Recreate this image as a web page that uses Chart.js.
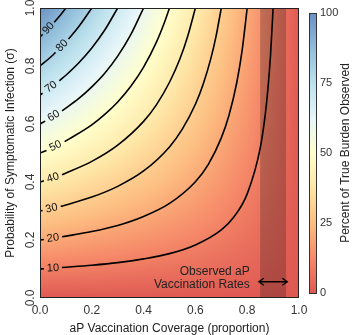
<!DOCTYPE html>
<html>
<head>
<meta charset="utf-8">
<script src="https://cdn.jsdelivr.net/npm/chart.js@4.4.1/dist/chart.umd.min.js"></script>
<style>
  html, body { margin: 0; padding: 0; background: #fff; }
  #wrap { width: 354px; height: 335px; }
</style>
</head>
<body>
<div id="wrap"><canvas id="chart"></canvas></div>
<script>
// percent of true burden observed, rows = sigma, columns = aP coverage
const coverage = [0, 0.1, 0.2, 0.3, 0.4, 0.5, 0.6, 0.7, 0.8, 0.9, 1]
const sigma    = [0, 0.1, 0.2, 0.3, 0.4, 0.5, 0.6, 0.7, 0.8, 0.9, 1]
const observed = [
  [0, 0, 0, 0, 0, 0, 0, 0, 0, 0, 0],
  [10, 9.47, 8.88, 8.22, 7.48, 6.65, 5.69, 4.59, 3.31, 1.80, 0],
  [20, 18.83, 17.54, 16.13, 14.56, 12.82, 10.87, 8.67, 6.17, 3.31, 0],
  [30, 28.08, 26.00, 23.74, 21.28, 18.58, 15.60, 12.32, 8.67, 4.59, 0],
  [40, 37.23, 34.26, 31.08, 27.65, 23.95, 19.95, 15.60, 10.87, 5.69, 0],
  [50, 46.27, 42.33, 38.15, 33.71, 28.99, 23.95, 18.58, 12.82, 6.64, 0],
  [60, 55.21, 50.21, 44.97, 39.47, 33.71, 27.65, 21.28, 14.56, 7.48, 0],
  [70, 64.06, 57.91, 51.55, 44.97, 38.15, 31.08, 23.74, 16.13, 8.22, 0],
  [80, 72.80, 65.44, 57.91, 50.21, 42.33, 34.26, 26.00, 17.54, 8.88, 0],
  [90, 81.45, 72.80, 64.06, 55.21, 46.27, 37.23, 28.08, 18.83, 9.47, 0],
  [100, 90, 80, 70, 60, 50, 40, 30, 20, 10, 0]
]

// contour lines, [coverage, sigma]; null marks the label gap
const levels    = [10, 20, 30, 40, 50, 60, 70, 80, 90]
const contour10 = [[0,0.1],[0.015,0.101],null,[0.085,0.105],[0.2,0.113],[0.3,0.122],[0.4,0.135],[0.5,0.153],[0.6,0.183],[0.7,0.235],[0.75,0.281],[0.8,0.359],[0.85,0.516],[0.87,0.635],[0.88,0.721],[0.89,0.836],[0.9,1]]
const contour20 = [[0,0.2],[0.015,0.202],null,[0.085,0.211],[0.2,0.229],[0.3,0.25],[0.4,0.281],[0.5,0.326],[0.6,0.401],[0.65,0.461],[0.7,0.552],[0.73,0.631],[0.76,0.744],[0.78,0.851],[0.8,1]]
const contour30 = [[0,0.3],[0.01,0.302],null,[0.08,0.316],[0.2,0.348],[0.3,0.385],[0.4,0.438],[0.5,0.521],[0.55,0.583],[0.6,0.668],[0.63,0.737],[0.66,0.827],[0.68,0.904],[0.7,1]]
const contour40 = [[0,0.4],[0.015,0.404],null,[0.085,0.425],[0.2,0.471],[0.3,0.527],[0.4,0.609],[0.45,0.667],[0.5,0.744],[0.54,0.824],[0.57,0.902],[0.6,1]]
const contour50 = [[0,0.5],[0.025,0.509],null,[0.095,0.539],[0.2,0.597],[0.25,0.633],[0.3,0.676],[0.35,0.729],[0.4,0.796],[0.45,0.883],[0.48,0.949],[0.5,1]]
const contour60 = [[0,0.6],[0.02,0.61],null,[0.085,0.645],[0.15,0.688],[0.2,0.728],[0.25,0.775],[0.3,0.834],[0.35,0.907],[0.4,1]]
const contour70 = [[0,0.7],[0.01,0.706],null,[0.075,0.749],[0.1,0.768],[0.15,0.811],[0.2,0.862],[0.25,0.924],[0.3,1]]
const contour80 = [[0,0.8],[0.05,0.838],[0.06,0.847],null,[0.11,0.893],[0.15,0.936],[0.2,1]]
const contour90 = [[0,0.9],[0.01,0.909],null,[0.055,0.951],[0.08,0.977],[0.1,1]]
const contours  = [contour10, contour20, contour30, contour40, contour50, contour60, contour70, contour80, contour90]

const observedRates = [0.85, 0.95]
const xTicks        = [0, 0.2, 0.4, 0.6, 0.8, 1]
const yTicks        = [0, 0.2, 0.4, 0.6, 0.8, 1]
const barTicks      = [0, 25, 50, 75, 100]

const palette = ["#d73027", "#f46d43", "#fdae61", "#fee090", "#ffffbf", "#e0f3f8", "#abd9e9", "#74add1", "#4575b4"]
const alpha   = 0.8
const font    = "'Liberation Sans', Arial, Helvetica, sans-serif"
const ink     = "#222"

const stops = palette.map(h => {
  const n = parseInt(h.slice(1), 16)
  return [n >> 16, (n >> 8) & 255, n & 255].map(c => Math.round(c * alpha + 255 * (1 - alpha)))
})

function colorFor(v) {
  const t = Math.max(0, Math.min(1, v / 100)) * (stops.length - 1)
  const i = Math.min(Math.floor(t), stops.length - 2)
  const f = t - i
  return stops[i].map((c, k) => c + (stops[i + 1][k] - c) * f)
}

function cellAt(axis, v) {
  const n = axis.length - 1
  let i = 0
  while (i < n - 1 && v > axis[i + 1]) i++
  const f = Math.max(0, Math.min(1, (v - axis[i]) / (axis[i + 1] - axis[i])))
  return [i, f]
}

function valueAt(c, s) {
  const [i, fx] = cellAt(coverage, c)
  const [j, fy] = cellAt(sigma, s)
  const a = observed[j][i],     b = observed[j][i + 1]
  const d = observed[j + 1][i], e = observed[j + 1][i + 1]
  return (a * (1 - fx) + b * fx) * (1 - fy) + (d * (1 - fx) + e * fx) * fy
}

const heatmap = {
  id: "heatmap",
  beforeDatasetsDraw(chart) {
    const { ctx, chartArea: a, scales: { x, y, bar } } = chart
    const w = Math.round(a.right - a.left), h = Math.round(a.bottom - a.top)
    const off = document.createElement("canvas")
    off.width = w; off.height = h
    const octx = off.getContext("2d")
    const img  = octx.createImageData(w, h)
    for (let j = 0; j < h; j++) {
      const s = y.getValueForPixel(a.top + j + 0.5)
      for (let i = 0; i < w; i++) {
        const rgb = colorFor(valueAt(x.getValueForPixel(a.left + i + 0.5), s))
        const p = (j * w + i) * 4
        img.data[p] = rgb[0]; img.data[p + 1] = rgb[1]; img.data[p + 2] = rgb[2]; img.data[p + 3] = 255
      }
    }
    octx.putImageData(img, 0, 0)
    ctx.save()
    ctx.drawImage(off, a.left, a.top)

    const x0 = x.getPixelForValue(observedRates[0]), x1 = x.getPixelForValue(observedRates[1])
    ctx.fillStyle = "rgba(60, 30, 30, 0.3)"
    ctx.fillRect(x0, a.top, x1 - x0, a.bottom - a.top)

    // colour bar
    const top = bar.getPixelForValue(100), bottom = bar.getPixelForValue(0)
    const bx  = bar.left + 10
    const grad = ctx.createLinearGradient(0, bottom, 0, top)
    stops.forEach((c, k) => grad.addColorStop(k / (stops.length - 1), `rgb(${c[0]},${c[1]},${c[2]})`))
    ctx.fillStyle = grad
    ctx.fillRect(bx, top, 7, bottom - top)
    ctx.strokeStyle = "#333"
    ctx.lineWidth = 1
    ctx.strokeRect(bx + 0.5, top + 0.5, 7, bottom - top)

    ctx.fillStyle = ink
    ctx.font = `12px ${font}`
    ctx.textAlign = "center"
    ctx.textBaseline = "middle"
    ctx.translate(bar.left + 47, (a.top + a.bottom) / 2)
    ctx.rotate(-Math.PI / 2)
    ctx.fillText("Percent of True Burden Observed", 0, 0)
    ctx.restore()
  },
  afterDatasetsDraw(chart) {
    const { ctx, chartArea: a, scales: { x, y } } = chart
    ctx.save()

    // contour labels in the gaps
    ctx.fillStyle = "#111"
    ctx.font = `11px ${font}`
    ctx.textAlign = "center"
    ctx.textBaseline = "middle"
    chart.data.datasets.forEach((ds, k) => {
      const pts = chart.getDatasetMeta(k).data
      const g = ds.data.findIndex(p => p.y === null)
      if (g < 1) return
      const p = pts[g - 1], q = pts[g + 1]
      ctx.save()
      ctx.translate((p.x + q.x) / 2, (p.y + q.y) / 2)
      ctx.rotate(Math.atan2(q.y - p.y, q.x - p.x))
      ctx.fillText(String(levels[k]), 0, 0)
      ctx.restore()
    })

    // annotation
    ctx.fillStyle = ink
    ctx.font = `12px ${font}`
    ctx.textAlign = "right"
    ctx.fillText("Observed aP", x.getPixelForValue(0.81), y.getPixelForValue(0.09))
    ctx.fillText("Vaccination Rates", x.getPixelForValue(0.81), y.getPixelForValue(0.045))

    const ay = y.getPixelForValue(0.056)
    const ax0 = x.getPixelForValue(0.845), ax1 = x.getPixelForValue(0.955)
    ctx.strokeStyle = "#000"
    ctx.lineWidth = 1.3
    ctx.beginPath()
    ctx.moveTo(ax0, ay); ctx.lineTo(ax1, ay)
    ctx.moveTo(ax0 + 5, ay - 3.5); ctx.lineTo(ax0, ay); ctx.lineTo(ax0 + 5, ay + 3.5)
    ctx.moveTo(ax1 - 5, ay - 3.5); ctx.lineTo(ax1, ay); ctx.lineTo(ax1 - 5, ay + 3.5)
    ctx.stroke()

    ctx.strokeStyle = "#222"
    ctx.lineWidth = 1
    ctx.strokeRect(a.left + 0.5, a.top + 0.5, a.right - a.left - 1, a.bottom - a.top - 1)
    ctx.restore()
  }
}

const datasets = contours.map(line => ({
  data: line.map((p, i) => p ? { x: p[0], y: p[1] } : { x: (line[i - 1][0] + line[i + 1][0]) / 2, y: null }),
  borderColor: "#000",
  borderWidth: 1.6,
  pointRadius: 0,
  pointHoverRadius: 0,
  spanGaps: false,
  cubicInterpolationMode: "monotone"
}))

const tickFont = { family: font, size: 12 }
const noPad = s => { s.paddingTop = 0; s.paddingBottom = 0; s.paddingLeft = 0; s.paddingRight = 0 }

new Chart(document.getElementById("chart"), {
  type: "line",
  data: { datasets },
  plugins: [heatmap],
  options: {
    responsive: true,
    maintainAspectRatio: false,
    animation: false,
    events: [],
    layout: { padding: { top: 8, left: 0, right: 0, bottom: 0 } },
    plugins: { legend: { display: false }, tooltip: { enabled: false } },
    scales: {
      x: {
        type: "linear", min: 0, max: 1,
        afterBuildTicks: s => { s.ticks = xTicks.map(v => ({ value: v })) },
        afterFit: s => { s.height = 37; noPad(s) },
        grid: { display: false, drawTicks: false },
        border: { display: false },
        ticks: { color: "#333", font: tickFont, padding: 5, maxRotation: 0, callback: v => v.toFixed(1) },
        title: { display: true, text: "aP Vaccination Coverage (proportion)", color: ink, font: tickFont, padding: { top: 0, bottom: -1 } }
      },
      y: {
        type: "linear", min: 0, max: 1,
        afterBuildTicks: s => { s.ticks = yTicks.map(v => ({ value: v })) },
        afterFit: s => { s.width = 40; noPad(s) },
        grid: { display: false, drawTicks: false },
        border: { display: false },
        ticks: { color: "#333", font: tickFont, padding: 1, minRotation: 90, maxRotation: 90, crossAlign: "center", callback: v => v.toFixed(1) },
        title: { display: true, text: "Probability of Symptomatic Infection (σ)", color: ink, font: tickFont, padding: { top: 3, bottom: 0 } }
      },
      bar: {
        type: "linear", axis: "y", position: "right", min: -1.786, max: 101.786,
        afterBuildTicks: s => { s.ticks = barTicks.map(v => ({ value: v })) },
        afterFit: s => { s.width = 55; noPad(s) },
        grid: { display: false, drawTicks: false },
        border: { display: false },
        ticks: { color: "#333", font: { family: font, size: 11 }, padding: 21, callback: v => String(v) }
      }
    }
  }
})
</script>
</body>
</html>
